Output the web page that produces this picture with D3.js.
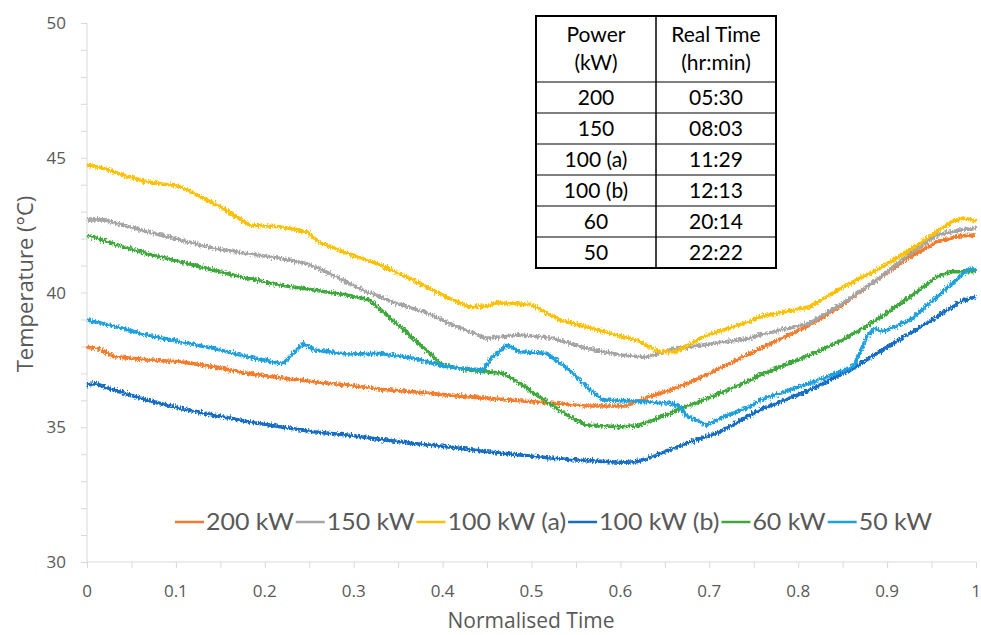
<!DOCTYPE html>
<html>
<head>
<meta charset="utf-8">
<script src="https://cdn.jsdelivr.net/npm/d3@7"></script>
<style>
  html, body { margin: 0; padding: 0; background: #fff; }
  svg { display: block; }
</style>
</head>
<body>
<svg id="chart" width="981" height="635"></svg>
<script>
// ---------------- DATA ----------------
const seriesNames = ["200 kW", "150 kW", "100 kW (a)", "100 kW (b)", "60 kW", "50 kW"];
const seriesColors = ["#F47B2C", "#A5A5A5", "#FFC000", "#166DC6", "#3DA93A", "#1FA0DF"];

const t200 = [0, 0.015, 0.03, 0.067, 0.105, 0.142, 0.18, 0.217, 0.255, 0.292, 0.33, 0.367, 0.404, 0.45, 0.524, 0.562, 0.607, 0.622, 0.656, 0.693, 0.746, 0.757, 0.813, 0.85, 0.888, 0.926, 0.956, 0.982, 1.0];
const v200 = [37.97, 37.9, 37.62, 37.5, 37.43, 37.25, 37.0, 36.84, 36.69, 36.57, 36.41, 36.32, 36.2, 36.07, 35.89, 35.79, 35.79, 36.01, 36.38, 36.88, 37.74, 37.92, 38.79, 39.54, 40.46, 41.33, 41.88, 42.1, 42.13];

const t150 = [0, 0.02, 0.04, 0.067, 0.105, 0.142, 0.18, 0.217, 0.247, 0.273, 0.31, 0.348, 0.386, 0.412, 0.45, 0.487, 0.524, 0.562, 0.6, 0.63, 0.656, 0.693, 0.746, 0.757, 0.813, 0.85, 0.888, 0.926, 0.956, 0.982, 1.0];
const v150 = [42.69, 42.7, 42.5, 42.26, 41.95, 41.64, 41.45, 41.27, 41.08, 40.71, 40.09, 39.6, 39.2, 38.79, 38.3, 38.42, 38.3, 37.93, 37.68, 37.6, 37.87, 38.05, 38.3, 38.42, 38.86, 39.6, 40.46, 41.45, 42.13, 42.32, 42.38];

const t100a = [0, 0.02, 0.04, 0.067, 0.105, 0.116, 0.15, 0.183, 0.217, 0.247, 0.262, 0.292, 0.33, 0.367, 0.404, 0.43, 0.45, 0.46, 0.5, 0.532, 0.58, 0.618, 0.644, 0.663, 0.693, 0.745, 0.757, 0.813, 0.85, 0.888, 0.926, 0.956, 0.974, 0.985, 1.0];
const v100a = [44.73, 44.6, 44.36, 44.11, 43.93, 43.74, 43.18, 42.5, 42.44, 42.26, 41.84, 41.47, 41.02, 40.46, 39.84, 39.47, 39.5, 39.62, 39.55, 38.98, 38.55, 38.24, 37.8, 37.8, 38.36, 38.92, 39.1, 39.47, 40.2, 40.83, 41.58, 42.26, 42.63, 42.76, 42.66];

const t100b = [0, 0.01, 0.03, 0.067, 0.105, 0.142, 0.18, 0.217, 0.255, 0.292, 0.33, 0.367, 0.404, 0.45, 0.487, 0.524, 0.562, 0.6, 0.618, 0.637, 0.674, 0.712, 0.746, 0.757, 0.813, 0.862, 0.888, 0.926, 0.956, 0.982, 1.0];
const v100b = [36.57, 36.62, 36.38, 36.01, 35.7, 35.45, 35.21, 35.02, 34.83, 34.71, 34.55, 34.4, 34.28, 34.09, 33.97, 33.85, 33.76, 33.7, 33.72, 33.91, 34.4, 34.83, 35.45, 35.64, 36.38, 37.19, 37.74, 38.49, 39.1, 39.66, 39.84];

const t60 = [0, 0.04, 0.067, 0.105, 0.142, 0.18, 0.217, 0.255, 0.292, 0.318, 0.36, 0.4, 0.43, 0.468, 0.487, 0.517, 0.543, 0.562, 0.6, 0.618, 0.637, 0.674, 0.712, 0.746, 0.757, 0.813, 0.85, 0.888, 0.926, 0.956, 0.971, 1.0];
const v60 = [42.13, 41.7, 41.45, 41.14, 40.83, 40.53, 40.28, 40.09, 39.91, 39.72, 38.5, 37.31, 37.12, 37.0, 36.63, 35.95, 35.4, 35.08, 35.02, 35.05, 35.27, 35.76, 36.26, 36.75, 36.94, 37.68, 38.24, 38.98, 39.84, 40.59, 40.77, 40.77];

const t50 = [0, 0.04, 0.067, 0.105, 0.142, 0.18, 0.217, 0.222, 0.243, 0.255, 0.292, 0.33, 0.367, 0.404, 0.446, 0.453, 0.472, 0.487, 0.517, 0.543, 0.562, 0.58, 0.618, 0.656, 0.667, 0.674, 0.697, 0.712, 0.746, 0.757, 0.813, 0.862, 0.87, 0.877, 0.886, 0.896, 0.926, 0.956, 0.982, 0.993, 1.0];
const v50 = [38.98, 38.67, 38.42, 38.17, 37.93, 37.62, 37.37, 37.4, 38.11, 37.87, 37.72, 37.74, 37.56, 37.25, 37.12, 37.5, 38.05, 37.8, 37.74, 37.12, 36.5, 36.01, 35.97, 35.89, 35.76, 35.45, 35.08, 35.33, 35.76, 36.01, 36.63, 37.25, 37.8, 38.36, 38.67, 38.55, 38.98, 39.84, 40.59, 40.9, 40.83];

const xTickValues = [0, 0.1, 0.2, 0.3, 0.4, 0.5, 0.6, 0.7, 0.8, 0.9, 1];
const yTickValues = [30, 35, 40, 45, 50];

const tableHeader = [["Power", "(kW)"], ["Real Time", "(hr:min)"]];
const tablePower = ["200", "150", "100 (a)", "100 (b)", "60", "50"];
const tableTime = ["05:30", "08:03", "11:29", "12:13", "20:14", "22:22"];

// ---------------- CHART ----------------
(function () {
const svg = d3.select("#chart");
const pLeft = 87, pRight = 976, pTop = 23, pBottom = 562;
const x = d3.scaleLinear().domain([0, 1]).range([pLeft, pRight]);
const y = d3.scaleLinear().domain([30, 50]).range([pBottom, pTop]);
const axisColor = "#D9D9D9";
const textColor = "#595959";

// noise filter to imitate measurement jitter on the traces
const defs = svg.append("defs");
const flt = defs.append("filter").attr("id", "jit").attr("filterUnits", "userSpaceOnUse")
  .attr("x", 0).attr("y", 0).attr("width", 981).attr("height", 635);
flt.append("feTurbulence").attr("type", "fractalNoise").attr("baseFrequency", "0.7 0.35").attr("numOctaves", 2).attr("seed", 7).attr("result", "n");
flt.append("feDisplacementMap").attr("in", "SourceGraphic").attr("in2", "n").attr("scale", 6).attr("xChannelSelector", "R").attr("yChannelSelector", "G");

// axes
const yAxis = d3.axisLeft(y).tickValues(d3.range(30, 50.001, 1)).tickSize(6).tickFormat("");
const gy = svg.append("g").attr("transform", `translate(${pLeft},0)`).call(yAxis);
gy.select(".domain").attr("stroke", axisColor).attr("d", `M0,${pTop}V${pBottom}`);
gy.selectAll(".tick line").attr("stroke", axisColor);

const xAxis = d3.axisBottom(x).tickValues(d3.range(0, 1.0001, 0.05)).tickSize(6).tickFormat("");
const gx = svg.append("g").attr("transform", `translate(0,${pBottom})`).call(xAxis);
gx.select(".domain").attr("stroke", axisColor).attr("d", `M${pLeft},0H${pRight}`);
gx.selectAll(".tick line").attr("stroke", axisColor);

// tick labels
svg.append("g").selectAll("text").data(yTickValues).join("text")
  .attr("x", 66).attr("y", d => y(d) + 6)
  .attr("text-anchor", "end").attr("font-family", "Open Sans").attr("font-size", 17)
  .attr("fill", textColor).text(d => d);
svg.append("g").selectAll("text").data(xTickValues).join("text")
  .attr("x", d => x(d)).attr("y", 597)
  .attr("text-anchor", "middle").attr("font-family", "Open Sans").attr("font-size", 17)
  .attr("fill", textColor).text(d => d3.format("~g")(d));

// axis titles
svg.append("text").attr("x", 531).attr("y", 628).attr("text-anchor", "middle")
  .attr("font-family", "Open Sans").attr("font-size", 21).attr("fill", textColor).text("Normalised Time");
svg.append("text").attr("transform", "translate(33,284) rotate(-90)").attr("text-anchor", "middle")
  .attr("font-family", "Open Sans").attr("font-size", 22).attr("fill", textColor).text("Temperature (°C)");

// lines
const series = [
  { t: t200, v: v200 }, { t: t150, v: v150 }, { t: t100a, v: v100a },
  { t: t100b, v: v100b }, { t: t60, v: v60 }, { t: t50, v: v50 }
];
const line = d3.line().x(d => x(d[0])).y(d => y(d[1]));
const lg = svg.append("g").attr("filter", "url(#jit)");
series.forEach((s, i) => {
  lg.append("path").datum(s.t.map((tt, k) => [tt, s.v[k]]))
    .attr("d", line).attr("fill", "none").attr("stroke", seriesColors[i])
    .attr("stroke-width", 3.6).attr("stroke-linejoin", "round");
});

// legend
const legend = svg.append("g");
const legFont = 23, legY = 522, lineLen = 29, gapA = 2, gapB = 2;
const items = seriesNames.map((n, i) => {
  const g = legend.append("g");
  const t = g.append("text").attr("font-family", "Lato").attr("font-size", legFont)
    .attr("fill", textColor).attr("y", legY + 8).text(n);
  return { g, t, w: t.node().getComputedTextLength(), i };
});
const totalNat = d3.sum(items, d => d.w);
const totalTarget = 932 - 175 - items.length * (lineLen + gapA) - (items.length - 1) * gapB;
const kf = totalTarget / totalNat;
let cx = 175;
items.forEach(d => {
  d.g.append("line").attr("x1", cx).attr("x2", cx + lineLen).attr("y1", legY).attr("y2", legY)
    .attr("stroke", seriesColors[d.i]).attr("stroke-width", 2.5);
  cx += lineLen + gapA;
  const w = d.w * kf;
  d.t.attr("x", cx).attr("textLength", w).attr("lengthAdjust", "spacingAndGlyphs");
  cx += w + gapB;
});

// table
const tbl = svg.append("g");
const tx0 = 536, tx1 = 656, tx2 = 776, ty0 = 16, tyH = 82, rowH = 31;
const nRows = tablePower.length;
const ty1 = tyH + nRows * rowH;
tbl.append("rect").attr("x", tx0).attr("y", ty0).attr("width", tx2 - tx0).attr("height", ty1 - ty0)
  .attr("fill", "#fff").attr("stroke", "#000").attr("stroke-width", 2);
tbl.append("line").attr("x1", tx1).attr("x2", tx1).attr("y1", ty0).attr("y2", ty1).attr("stroke", "#000").attr("stroke-width", 1.5);
d3.range(nRows).forEach(r => {
  const yy = tyH + r * rowH;
  tbl.append("line").attr("x1", tx0).attr("x2", tx2).attr("y1", yy).attr("y2", yy).attr("stroke", "#000").attr("stroke-width", 1.2);
});
const colCx = [(tx0 + tx1) / 2, (tx1 + tx2) / 2];
tableHeader.forEach((lines, c) => {
  lines.forEach((s, j) => {
    tbl.append("text").attr("x", colCx[c]).attr("y", 42 + j * 28).attr("text-anchor", "middle")
      .attr("font-family", "Lato").attr("font-size", 21).attr("fill", "#000").text(s);
  });
});
tablePower.forEach((s, r) => {
  tbl.append("text").attr("x", colCx[0]).attr("y", tyH + r * rowH + 23).attr("text-anchor", "middle")
    .attr("font-family", "Lato").attr("font-size", 21).attr("fill", "#000").text(s);
  tbl.append("text").attr("x", colCx[1]).attr("y", tyH + r * rowH + 23).attr("text-anchor", "middle")
    .attr("font-family", "Lato").attr("font-size", 21).attr("fill", "#000").text(tableTime[r]);
});
})();
</script>
</body>
</html>
